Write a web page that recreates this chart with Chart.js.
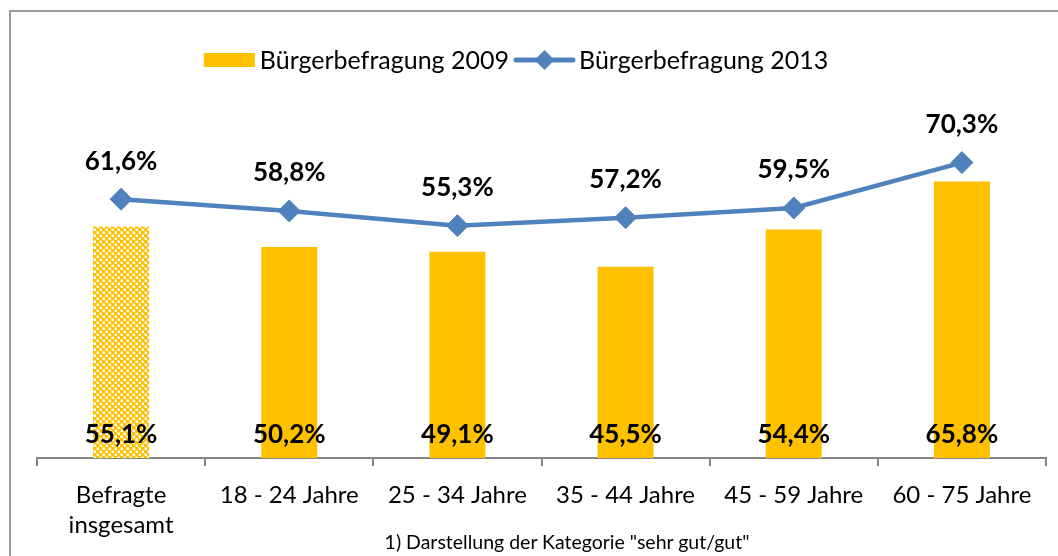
<!DOCTYPE html>
<html>
<head>
<meta charset="utf-8">
<script src="https://cdn.jsdelivr.net/npm/chart.js@4/dist/chart.umd.min.js"></script>
<style>
  html, body { margin: 0; padding: 0; background: #fff; }
  body { width: 1058px; height: 556px; position: relative; overflow: hidden; }
  #frame { position: absolute; left: 9px; top: 10px; width: 1100px; height: 600px; border: 2px solid #9c9c9c; box-sizing: border-box; }
  #wrap { position: absolute; left: 0; top: 0; width: 1058px; height: 556px; }
  #note { position: absolute; left: 0; width: 1134px; top: 530px; text-align: center; font: 19.5px Lato, sans-serif; color: #000; }
</style>
</head>
<body>
<div id="frame"></div>
<div id="wrap"><canvas id="chart" width="1058" height="556"></canvas></div>
<div id="note">1) Darstellung der Kategorie "sehr gut/gut"</div>
<script>
// Daten
const categories = [["Befragte", "insgesamt"], "18 - 24 Jahre", "25 - 34 Jahre", "35 - 44 Jahre", "45 - 59 Jahre", "60 - 75 Jahre"];
const values2009 = [55.1, 50.2, 49.1, 45.5, 54.4, 65.8];
const values2013 = [61.6, 58.8, 55.3, 57.2, 59.5, 70.3];
const seriesNames = ["Bürgerbefragung 2009", "Bürgerbefragung 2013"];

const YELLOW = "#ffc000";
const BLUE = "#4f81bd";
const FONT = "Lato, sans-serif";

// checkered fill for the first bar ("Befragte insgesamt")
function checkerPattern() {
  const c = document.createElement("canvas");
  c.width = 6;
  c.height = 6;
  const g = c.getContext("2d");
  g.fillStyle = "#fff";
  g.fillRect(0, 0, 6, 6);
  // soft edges like the scaled original
  g.fillStyle = "#ffdc70";
  g.fillRect(0, 0, 4, 4);
  g.fillRect(3, 3, 3, 3);
  g.fillRect(0, 3, 1, 3);
  g.fillRect(3, 0, 3, 1);
  g.fillStyle = YELLOW;
  g.fillRect(0, 0, 3, 3);
  g.fillRect(3, 3, 3, 3);
  return g.createPattern(c, "repeat");
}

function fmt(v) {
  return v.toFixed(1).replace(".", ",") + "%";
}

const barColors = values2009.map((v, i) => (i === 0 ? checkerPattern() : YELLOW));

// value labels: bars at the bottom, line above the points
const valueLabels = {
  id: "valueLabels",
  afterDatasetsDraw(chart) {
    const ctx = chart.ctx;
    const bottom = chart.chartArea.bottom;
    ctx.save();
    ctx.font = "bold 26px " + FONT;
    ctx.fillStyle = "#000";
    ctx.textAlign = "center";
    ctx.textBaseline = "middle";
    chart.getDatasetMeta(0).data.forEach((bar, i) => {
      ctx.fillText(fmt(values2009[i]), bar.x, bottom - 23);
    });
    chart.getDatasetMeta(1).data.forEach((pt, i) => {
      ctx.fillText(fmt(values2013[i]), pt.x, pt.y - 38);
    });
    ctx.restore();
  }
};

// legend row as in the original (box / line with diamond)
const topLegend = {
  id: "topLegend",
  afterDraw(chart) {
    const ctx = chart.ctx;
    const y = 60;
    ctx.save();
    ctx.font = "25px " + FONT;
    ctx.textBaseline = "middle";
    ctx.textAlign = "left";
    const w1 = ctx.measureText(seriesNames[0]).width;
    const w2 = ctx.measureText(seriesNames[1]).width;
    const total = 51 + 5 + w1 + 5 + 61 + 4 + w2;
    let x = 516 - total / 2;

    ctx.fillStyle = YELLOW;
    ctx.fillRect(x, y - 7, 51, 14);
    x += 56;
    ctx.fillStyle = "#000";
    ctx.fillText(seriesNames[0], x, y + 1);
    x += w1 + 5;

    ctx.strokeStyle = BLUE;
    ctx.lineWidth = 5;
    ctx.lineCap = "round";
    ctx.beginPath();
    ctx.moveTo(x + 2, y);
    ctx.lineTo(x + 59, y);
    ctx.stroke();
    const cx = x + 30.5;
    ctx.fillStyle = BLUE;
    ctx.beginPath();
    ctx.moveTo(cx - 10, y);
    ctx.lineTo(cx, y - 10);
    ctx.lineTo(cx + 10, y);
    ctx.lineTo(cx, y + 10);
    ctx.closePath();
    ctx.fill();
    x += 65;
    ctx.fillStyle = "#000";
    ctx.fillText(seriesNames[1], x, y + 1);
    ctx.restore();
  }
};

const chart = new Chart(document.getElementById("chart").getContext("2d"), {
  type: "bar",
  data: {
    labels: categories,
    datasets: [
      {
        label: seriesNames[0],
        data: values2009,
        backgroundColor: barColors,
        borderWidth: 0,
        categoryPercentage: 1,
        barPercentage: 0.333,
        order: 1
      },
      {
        type: "line",
        label: seriesNames[1],
        data: values2013,
        borderColor: BLUE,
        backgroundColor: BLUE,
        borderWidth: 4.5,
        tension: 0,
        pointStyle: "rectRot",
        pointRadius: 11,
        pointBackgroundColor: BLUE,
        pointBorderColor: BLUE,
        pointBorderWidth: 1,
        order: 0
      }
    ]
  },
  options: {
    responsive: false,
    animation: false,
    devicePixelRatio: 1,
    layout: { padding: { left: 37, right: 12, top: 100, bottom: 2 } },
    plugins: {
      legend: { display: false },
      tooltip: { enabled: false }
    },
    scales: {
      x: {
        grid: {
          display: true,
          offset: true,
          drawOnChartArea: false,
          drawTicks: true,
          tickLength: 8,
          color: "#868686",
          lineWidth: 2
        },
        border: { display: true, color: "#868686", width: 2 },
        ticks: {
          color: "#000",
          padding: 14,
          maxRotation: 0,
          font: { family: FONT, size: 24, lineHeight: 1.25 }
        }
      },
      y: {
        display: false,
        min: 0,
        max: 85.2
      }
    }
  },
  plugins: [valueLabels, topLegend]
});
</script>
</body>
</html>
